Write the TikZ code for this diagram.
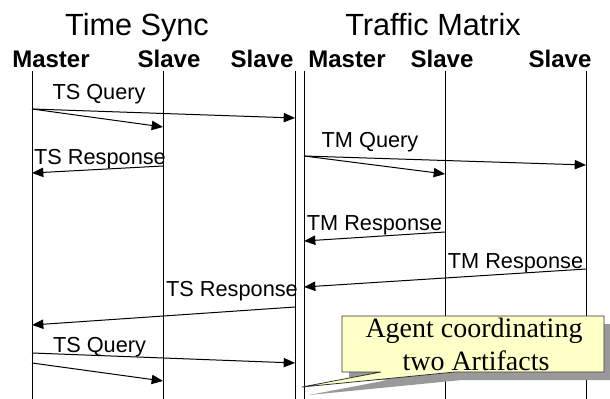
\documentclass[tikz,border=0pt]{standalone}
\usepackage{fontspec}
\setmainfont{Liberation Sans}
\newfontfamily\calloutfont{Liberation Serif}
\usetikzlibrary{arrows.meta}
\definecolor{noteyellow}{RGB}{255,255,200}
\definecolor{noteshadow}{RGB}{153,153,153}
\begin{document}
\begin{tikzpicture}[x=0.75pt,y=-0.75pt,
  lifeline/.style={line width=0.75pt},
  msg/.style={line width=0.75pt,-{Triangle[length=8.5pt,width=7pt]}},
  title/.style={font=\fontsize{23pt}{27pt}\selectfont,anchor=base,inner sep=0pt},
  role/.style={font=\bfseries\fontsize{18pt}{21pt}\selectfont,anchor=base,inner sep=0pt},
  msglabel/.style={font=\fontsize{16.3pt}{19pt}\selectfont,anchor=base,inner sep=0pt},
  notetext/.style={font=\calloutfont\fontsize{21pt}{25pt}\selectfont,anchor=base,inner sep=0pt}]
\useasboundingbox (0,0) rectangle (610,399);

% section titles
\node[title] (tstitle) at (137,36) {Time Sync};
\node[title] (tmtitle) at (433,36) {Traffic Matrix};

% participant headers
\node[role] (tsmaster) at (51,68) {Master};
\node[role] (tsslaveA) at (169,68) {Slave};
\node[role] (tsslaveB) at (262,68) {Slave};
\node[role] (tmmaster) at (347,68) {Master};
\node[role] (tmslaveA) at (442,68) {Slave};
\node[role] (tmslaveB) at (560,68) {Slave};

% lifelines
\foreach \n/\x in {tsm/32,tsa/163,tsb/295,tmm/304,tma/445,tmb/586}{
  \coordinate (\n top) at (\x,71);
  \coordinate (\n bot) at (\x,399);
  \draw[lifeline] (\n top) -- (\n bot);
}

% Time Sync: first query
\node[msglabel] (lq1) at (99,100) {TS Query};
\coordinate (q1m) at (32,109);
\coordinate (q1b) at (295,118);
\coordinate (q1a) at (163,127);
\draw[msg] (q1m) -- (q1b);
\draw[msg] (q1m) -- (q1a);

% Time Sync: first response
\node[msglabel] (lr1) at (100,165) {TS Response};
\coordinate (r1a) at (163,166);
\coordinate (r1m) at (32,173);
\draw[msg] (r1a) -- (r1m);

% Traffic Matrix: query
\node[msglabel] (lq2) at (370,147) {TM Query};
\coordinate (q2m) at (304,156);
\coordinate (q2b) at (586,165);
\coordinate (q2a) at (445,174);
\draw[msg] (q2m) -- (q2b);
\draw[msg] (q2m) -- (q2a);

% Traffic Matrix: responses
\node[msglabel] (lr2) at (374.5,230) {TM Response};
\coordinate (r2a) at (445,232);
\coordinate (r2m) at (304,241);
\draw[msg] (r2a) -- (r2m);

\node[msglabel] (lr3) at (515.5,268) {TM Response};
\coordinate (r3b) at (586,269);
\coordinate (r3m) at (304,287);
\draw[msg] (r3b) -- (r3m);

% Time Sync: second response
\node[msglabel] (lr4) at (232,296) {TS Response};
\coordinate (r4b) at (295,307);
\coordinate (r4m) at (32,325);
\draw[msg] (r4b) -- (r4m);

% Time Sync: second query
\node[msglabel] (lq3) at (99.5,352) {TS Query};
\coordinate (q3m) at (32,353);
\coordinate (q3b) at (295,363);
\coordinate (q3n) at (32,363);
\coordinate (q3a) at (163,381);
\draw[msg] (q3m) -- (q3b);
\draw[msg] (q3n) -- (q3a);

% callout with drop shadow
\begin{scope}[shift={(7,8)}]
  \fill[noteshadow] (342,316) -- (604,316) -- (604,372) -- (455,372)
    -- (302,387) -- (381,372) -- (342,372) -- cycle;
\end{scope}
\coordinate (tip) at (302,387);
\filldraw[fill=noteyellow,draw=black!80,line width=0.6pt]
  (342,316) -- (604,316) -- (604,372) -- (455,372)
  -- (tip) -- (381,372) -- (342,372) -- cycle;
\node[notetext] (note1) at (474,337) {Agent coordinating};
\node[notetext] (note2) at (476,370) {two Artifacts};
\end{tikzpicture}
\end{document}
